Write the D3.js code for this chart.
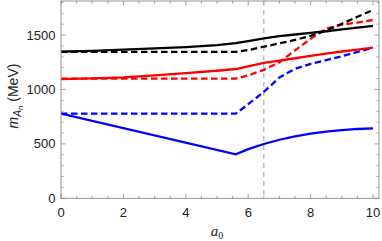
<!DOCTYPE html>
<html><head><meta charset="utf-8">
<script src="https://cdn.jsdelivr.net/npm/d3@7"></script>
<style>body{margin:0;background:#fff}svg{display:block}</style>
</head><body>
<script>
// data (a0, mass in MeV)
const blackSolid = [[0,1347],[1,1355],[2,1366],[3,1377],[4,1390],[5,1408],[5.6,1425],[6,1445],[6.5,1470],[7,1490],[7.5,1505],[8,1520],[8.5,1535],[9,1552],[9.5,1568],[10,1584]];
const blackDashed = [[0,1345],[5.6,1345],[6,1362],[6.5,1393],[7,1425],[7.5,1455],[8,1493],[8.5,1542],[9,1604],[9.5,1668],[10,1731]];
const redSolid = [[0,1096],[1,1102],[2,1112],[3,1130],[4,1150],[5,1172],[5.6,1188],[6,1212],[6.5,1244],[7,1266],[7.5,1287],[8,1309],[8.5,1330],[9,1349],[9.5,1367],[10,1384]];
const redDashed = [[0,1100],[5.6,1100],[6,1130],[6.5,1180],[7,1250],[7.5,1360],[8,1465],[8.5,1560],[9,1596],[9.5,1615],[10,1639]];
const blueSolid = [[0,778],[5.6,404],[6,452],[6.5,499],[7,538],[7.5,570],[8,594],[8.5,612],[9,626],[9.5,637],[10,643]];
const blueDashed = [[0,778],[5.6,778],[6,865],[6.5,978],[7,1110],[7.5,1190],[8,1235],[8.5,1270],[9,1305],[9.5,1345],[10,1384]];
const xTicks = [0,2,4,6,8,10];
const yTicks = [0,500,1000,1500];
const vLine = 6.5;

const W=382,H=241;
const L=61,R=379,T=1,B=198.3;
const x=d3.scaleLinear().domain([0,10.19]).range([L,R]);
const y=d3.scaleLinear().domain([0,1813]).range([B,T]);
const svg=d3.select("body").append("svg").attr("width",W).attr("height",H);
const frameCol="#8c8c8c";

// minor ticks
const xMinor=d3.range(0,10.2,0.5), yMinor=d3.range(0,1801,100);
const g=svg.append("g").attr("stroke",frameCol).attr("stroke-width",0.8);
xMinor.forEach(v=>{
  const major = xTicks.includes(v);
  const len = major?4.5:2.5;
  g.append("line").attr("x1",x(v)).attr("x2",x(v)).attr("y1",B).attr("y2",B-len);
  g.append("line").attr("x1",x(v)).attr("x2",x(v)).attr("y1",T).attr("y2",T+len);
});
yMinor.forEach(v=>{
  const major = yTicks.includes(v);
  const len = major?4.5:2.5;
  g.append("line").attr("y1",y(v)).attr("y2",y(v)).attr("x1",L).attr("x2",L+len);
  g.append("line").attr("y1",y(v)).attr("y2",y(v)).attr("x1",R).attr("x2",R-len);
});

// vertical dashed line
svg.append("line").attr("x1",x(vLine)).attr("x2",x(vLine)).attr("y1",T).attr("y2",B)
  .attr("stroke","#999").attr("stroke-width",1).attr("stroke-dasharray","5,4");

const line=d3.line().x(d=>x(d[0])).y(d=>y(d[1]));
const series=[
  {d:blueSolid,c:"#0000ff",dash:null},
  {d:blueDashed,c:"#0000ff",dash:"6.5,3.5"},
  {d:redSolid,c:"#ff0000",dash:null},
  {d:redDashed,c:"#ff0000",dash:"6.5,3.5"},
  {d:blackSolid,c:"#000",dash:null},
  {d:blackDashed,c:"#000",dash:"6.5,3.5"}
];
const clip=svg.append("clipPath").attr("id","c").append("rect").attr("x",L).attr("y",T).attr("width",R-L).attr("height",B-T);
series.forEach(s=>{
  svg.append("path").attr("d",line(s.d)).attr("fill","none").attr("stroke",s.c)
    .attr("stroke-width",2.3).attr("stroke-dasharray",s.dash).attr("clip-path","url(#c)");
});

// frame
svg.append("rect").attr("x",L).attr("y",T).attr("width",R-L).attr("height",B-T)
  .attr("fill","none").attr("stroke",frameCol).attr("stroke-width",0.9);

// tick labels
const font="'Liberation Sans', Arial, sans-serif";
xTicks.forEach(v=>{
  svg.append("text").attr("x",x(v)).attr("y",216.5).attr("text-anchor","middle")
    .attr("font-family",font).attr("font-size",13).attr("fill","#222").text(v);
});
yTicks.forEach(v=>{
  svg.append("text").attr("x",55.5).attr("y",y(v)+4.6).attr("text-anchor","end")
    .attr("font-family",font).attr("font-size",13).attr("fill","#222").text(v);
});

// axis labels
svg.append("text").attr("x",(L+R)/2-3).attr("y",236).attr("text-anchor","middle")
  .attr("font-family","'Liberation Serif', 'Times New Roman', serif").attr("font-size",15).attr("font-style","italic").attr("fill","#222")
  .text("a").append("tspan").attr("font-size",10).attr("font-style","normal").attr("dy",3).text("0");

const yl=svg.append("text").attr("transform","translate(18,96) rotate(-90)").attr("text-anchor","middle")
  .attr("font-family",font).attr("font-size",14).attr("fill","#222");
yl.append("tspan").attr("font-style","italic").text("m");
yl.append("tspan").attr("font-style","italic").attr("font-size",10).attr("dy",3).text("A");
yl.append("tspan").attr("font-style","italic").attr("font-size",8).attr("dy",2).text("n");
yl.append("tspan").attr("dy",-5).text(" (MeV)");
</script>
</body></html>
